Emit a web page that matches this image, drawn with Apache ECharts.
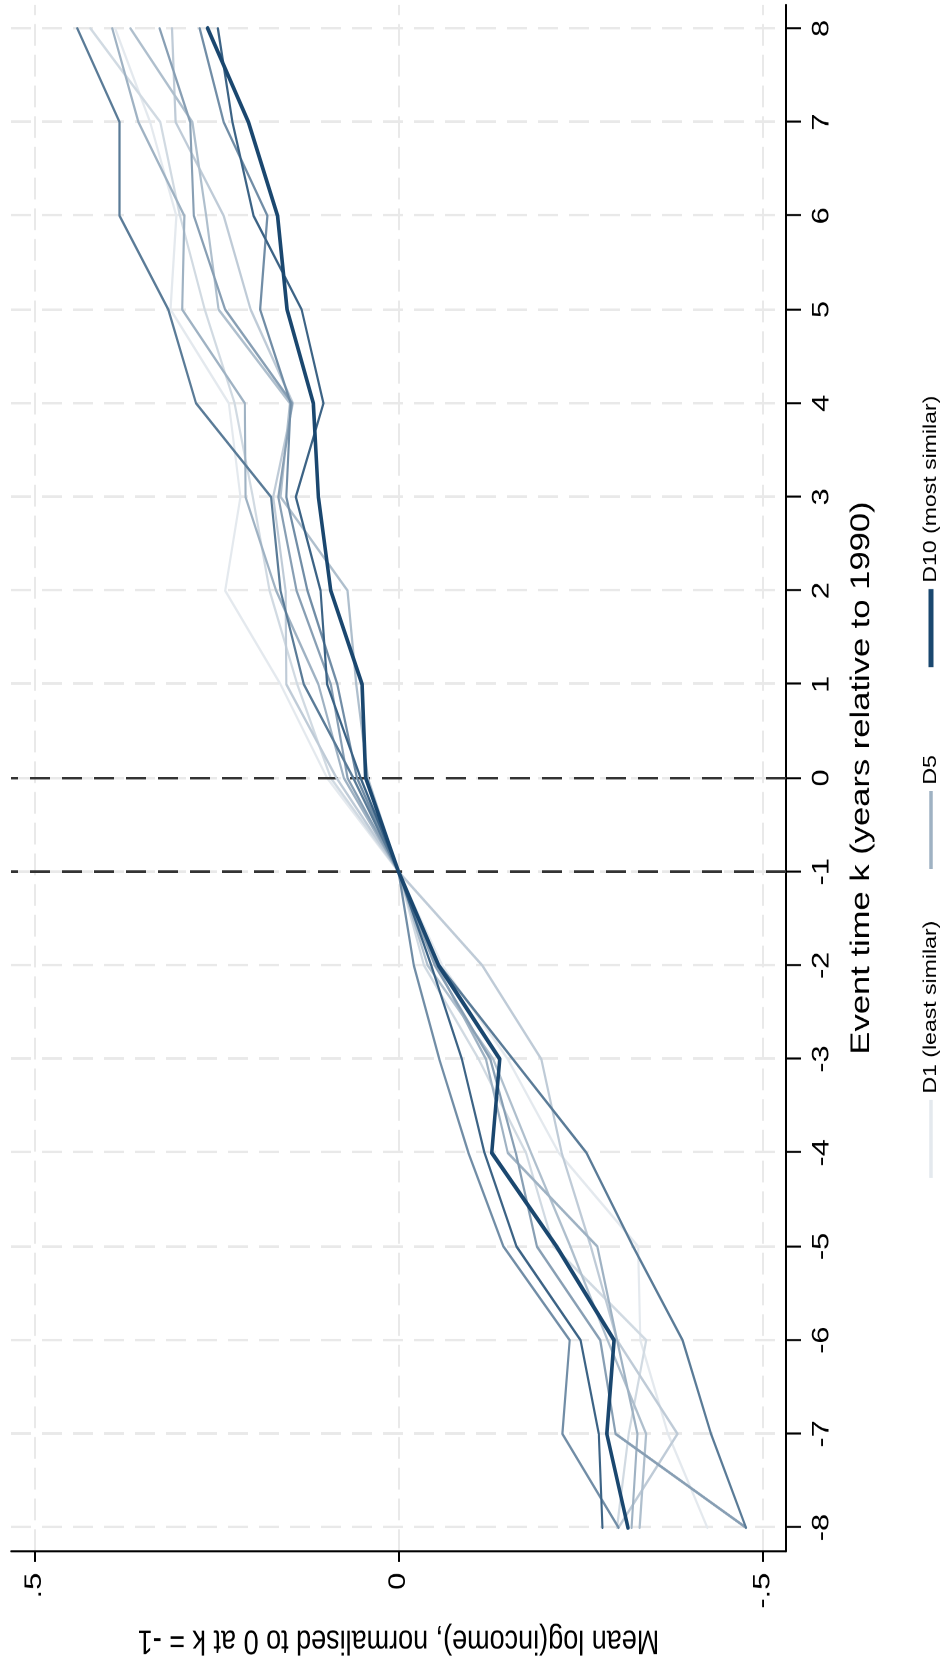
<!DOCTYPE html>
<html>
<head>
<meta charset="utf-8">
<script src="https://cdn.jsdelivr.net/npm/echarts@6/dist/echarts.min.js"></script>
<style>
  html, body { margin: 0; padding: 0; width: 950px; height: 1669px; overflow: hidden; background: #fff; }
  /* The graph is laid out landscape, then turned a quarter turn and widened along its long side. */
  #chart {
    position: absolute; left: 0; top: 0;
    width: 1304px; height: 950px;
    transform-origin: 0 0;
    transform: translate(0px, 1669px) rotate(-90deg) scale(1.2799, 1);
  }
</style>
</head>
<body>
<div id="chart"></div>
<script>
// Event time k (years relative to 1990)
const eventTime = [-8, -7, -6, -5, -4, -3, -2, -1, 0, 1, 2, 3, 4, 5, 6, 7, 8];

// Mean log(income) by similarity decile, normalised to 0 at k = -1
const d1  = [-0.424, -0.370, -0.332, -0.329, -0.220, -0.150, -0.060, 0, 0.098, 0.162, 0.238, 0.217, 0.233, 0.313, 0.305, 0.341, 0.389];
const d2  = [-0.300, -0.316, -0.340, -0.213, -0.175, -0.110, -0.035, 0, 0.093, 0.139, 0.177, 0.200, 0.225, 0.266, 0.300, 0.327, 0.423];
const d3  = [-0.302, -0.383, -0.300, -0.264, -0.224, -0.196, -0.115, 0, 0.085, 0.154, 0.155, 0.172, 0.145, 0.203, 0.240, 0.306, 0.311];
const d4  = [-0.331, -0.340, -0.287, -0.236, -0.182, -0.130, -0.040, 0, 0.042, 0.058, 0.070, 0.162, 0.149, 0.247, 0.264, 0.283, 0.368];
const d5  = [-0.320, -0.328, -0.300, -0.273, -0.150, -0.120, -0.052, 0, 0.075, 0.110, 0.168, 0.210, 0.211, 0.297, 0.294, 0.357, 0.393];
const d6  = [-0.477, -0.298, -0.277, -0.190, -0.161, -0.126, -0.050, 0, 0.070, 0.093, 0.140, 0.165, 0.146, 0.238, 0.281, 0.286, 0.328];
const d7  = [-0.302, -0.225, -0.235, -0.144, -0.096, -0.056, -0.021, 0, 0.057, 0.084, 0.125, 0.154, 0.148, 0.190, 0.180, 0.240, 0.273];
const d8  = [-0.477, -0.429, -0.390, -0.322, -0.258, -0.157, -0.056, 0, 0.062, 0.130, 0.162, 0.175, 0.278, 0.316, 0.383, 0.383, 0.441];
const d9  = [-0.280, -0.275, -0.250, -0.162, -0.118, -0.087, -0.045, 0, 0.052, 0.098, 0.107, 0.141, 0.103, 0.133, 0.199, 0.228, 0.248];
const d10 = [-0.315, -0.286, -0.296, -0.217, -0.128, -0.139, -0.055, 0, 0.045, 0.050, 0.093, 0.110, 0.117, 0.153, 0.166, 0.206, 0.262];

const deciles = [d1, d2, d3, d4, d5, d6, d7, d8, d9, d10];
const decileNames = ['D1 (least similar)', 'D2', 'D3', 'D4', 'D5', 'D6', 'D7', 'D8', 'D9', 'D10 (most similar)'];
const legendNames = ['D1 (least similar)', 'D5', 'D10 (most similar)'];

// Axis ticks and their printed labels
const kTicks = [-8, -7, -6, -5, -4, -3, -2, -1, 0, 1, 2, 3, 4, 5, 6, 7, 8];
const yTicks = [-0.5, 0, 0.5];
const yTickLabels = ['-.5', '0', '.5'];

// Reference years marked with vertical dashed lines
const eventLines = [-1, 0];

// Navy shaded from pale (D1) to full (D10)
const shade = [0.12, 0.2, 0.28, 0.35, 0.42, 0.52, 0.62, 0.72, 0.85, 1.0];
function navy(t) {
  const r = Math.round(255 - 229 * t), g = Math.round(255 - 184 * t), b = Math.round(255 - 144 * t);
  return 'rgb(' + r + ',' + g + ',' + b + ')';
}
const colors = shade.map(navy);
const widths = [2.2, 2.2, 2.2, 2.2, 2.2, 2.2, 2.2, 2.2, 2.2, 3.6];

const FONT = '"Liberation Sans", Arial, Helvetica, sans-serif';

const series = deciles.map(function (vals, i) {
  const s = {
    name: decileNames[i],
    type: 'line',
    data: eventTime.map(function (k, j) { return [k, vals[j]]; }),
    symbol: 'none',
    showSymbol: false,
    color: colors[i],
    itemStyle: { color: colors[i] },
    lineStyle: { color: colors[i], width: widths[i], cap: 'round', join: 'round' },
    z: 3 + i,
    silent: true
  };
  if (i === 0) {
    s.markLine = {
      silent: true,
      symbol: 'none',
      label: { show: false },
      lineStyle: { color: '#333', width: 2, type: [20, 12] },
      data: eventLines.map(function (k) { return { xAxis: k }; })
    };
  }
  return s;
});

function legendFor(name, left, thick) {
  const i = decileNames.indexOf(name);
  return {
    data: [{ name: name, icon: 'rect', itemStyle: { color: colors[i] } }],
    left: left, top: 917,
    itemWidth: 61, itemHeight: thick,
    selectedMode: false,
    textStyle: { fontSize: 18, color: '#000', fontFamily: FONT }
  };
}

const chart = echarts.init(document.getElementById('chart'), null, { devicePixelRatio: 2 });
chart.setOption({
  animation: false,
  backgroundColor: '#fff',
  textStyle: { fontFamily: FONT, color: '#000' },
  grid: { left: 92.2, right: 3.9, top: 11, bottom: 164, containLabel: false },
  xAxis: {
    type: 'value', min: -8.25, max: 8.25,
    name: 'Event time k (years relative to 1990)',
    nameLocation: 'middle', nameGap: 62,
    nameTextStyle: { fontSize: 27, color: '#000', fontFamily: FONT },
    axisLine: { show: true, onZero: false, lineStyle: { color: '#000', width: 2 } },
    axisTick: { show: true, length: 15, customValues: kTicks, lineStyle: { color: '#000', width: 1.6 } },
    axisLabel: { customValues: kTicks, fontSize: 24, color: '#000', margin: 24, fontFamily: FONT,
                 formatter: function (v) { return String(v); } },
    splitLine: { show: true, lineStyle: { color: '#e9e9e9', width: 2, type: [20, 11] } }
  },
  yAxis: {
    type: 'value', min: -0.532, max: 0.532,
    name: 'Mean log(income), normalised to 0 at k = -1',
    nameLocation: 'middle', nameGap: 56,
    nameTextStyle: { fontSize: 27, color: '#000', fontFamily: FONT },
    axisLine: { show: true, onZero: false, lineStyle: { color: '#000', width: 1.6 } },
    axisTick: { show: true, length: 8.6, customValues: yTicks, lineStyle: { color: '#000', width: 2 } },
    axisLabel: { customValues: yTicks, fontSize: 24, color: '#000', margin: 17, fontFamily: FONT,
                 formatter: function (v) {
                   const idx = yTicks.findIndex(function (t) { return Math.abs(t - v) < 1e-9; });
                   return idx >= 0 ? yTickLabels[idx] : '';
                 } },
    splitLine: { show: true, lineStyle: { color: '#e9e9e9', width: 2, type: [17, 7] } }
  },
  legend: [
    legendFor(legendNames[0], 378.6, 3.5),
    legendFor(legendNames[1], 620, 3.5),
    legendFor(legendNames[2], 777.8, 5)
  ],
  series: series
});
</script>
</body>
</html>
